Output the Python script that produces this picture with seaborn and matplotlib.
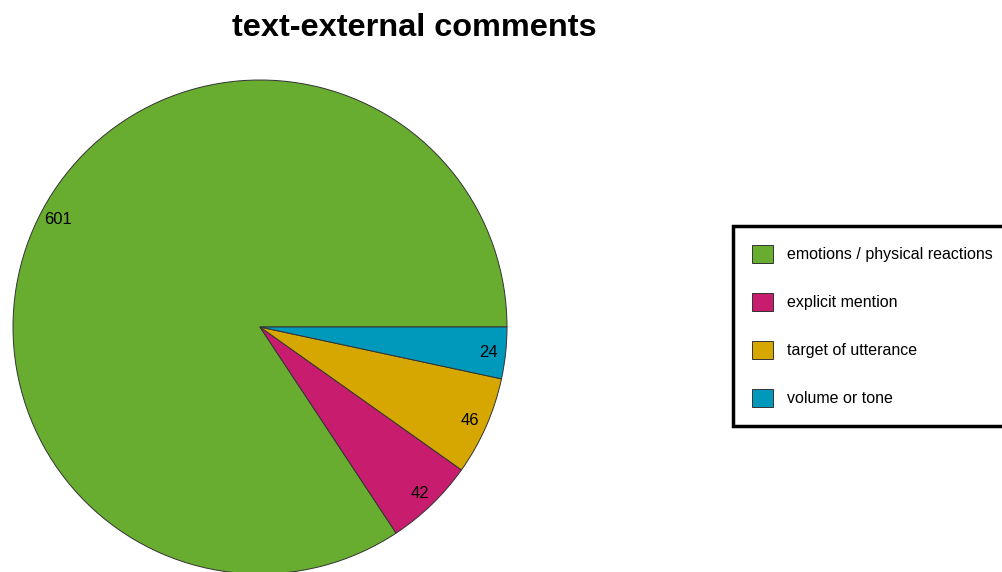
import matplotlib
matplotlib.use("Agg")
import matplotlib.pyplot as plt
import seaborn as sns

categories = ["emotions / physical reactions", "explicit mention",
              "target of utterance", "volume or tone"]
counts = [601, 42, 46, 24]
colors = ["#68AC30", "#C81C6E", "#D6A700", "#0099BC"]
title = "text-external comments"

sns.set_theme(style="white")
plt.rcParams["font.family"] = ["Liberation Sans", "DejaVu Sans"]
plt.rcParams["text.color"] = "black"

fig = plt.figure(figsize=(10.03, 5.72), dpi=100)
W, H = 1003, 572

# pie axes: square box, slightly overflowing the bottom edge
cx, cy, r = 260, 327, 247
ax = fig.add_axes([(cx - r) / W, (H - (cy + r)) / H, 2 * r / W, 2 * r / H])

wedges, texts = ax.pie(
    counts,
    colors=colors,
    labels=[str(c) for c in counts],
    startangle=0,
    counterclock=True,
    labeldistance=0.93,
    radius=1.0,
    wedgeprops=dict(edgecolor="#333333", linewidth=0.7),
    textprops=dict(fontsize=12, color="black"),
)
for t in texts:
    t.set_horizontalalignment("center")
    t.set_verticalalignment("center_baseline")
ax.set_xlim(-1, 1)
ax.set_ylim(-1, 1)
ax.set_aspect("equal")
ax.axis("off")

fig.text(414 / W, 1 - 28 / H, title, ha="center", va="center",
         fontsize=23.4, fontweight="bold", color="black")

leg = fig.legend(
    wedges, categories,
    loc="upper left",
    bbox_to_anchor=(733 / W, 1 - 226 / H),
    bbox_transform=fig.transFigure,
    fontsize=11.5,
    frameon=True,
    fancybox=False,
    framealpha=1.0,
    handlelength=1.3,
    handleheight=1.3,
    handletextpad=0.85,
    labelspacing=1.92,
    borderpad=1.2,
    borderaxespad=0,
)
frame = leg.get_frame()
frame.set_edgecolor("black")
frame.set_linewidth(2.5)
frame.set_facecolor("white")
for t in leg.get_texts():
    t.set_color("black")

fig.savefig("out.png", dpi=100)
